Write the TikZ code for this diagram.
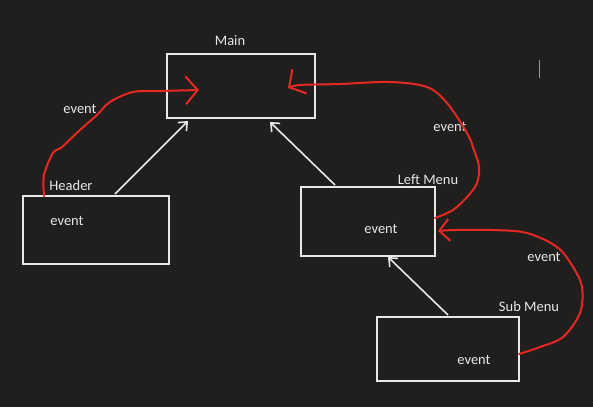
\documentclass[tikz,border=0pt]{standalone}
\usepackage{fontspec}
\setmainfont{Carlito}
\usepackage{tikz}
\usetikzlibrary{arrows.meta}
\usetikzlibrary{calc}
\definecolor{bg}{RGB}{33,31,30}
\definecolor{ln}{RGB}{232,232,230}
\definecolor{ev}{RGB}{228,40,34}
\definecolor{cur}{RGB}{150,150,150}

\begin{document}
\begin{tikzpicture} [
    x=1pt, y=-1pt,
    box/.style={
        draw=ln, line width=2pt,
        inner sep=0pt, outer sep=0pt
    },
    lbl/.style={text=ln, font=\fontsize{14.5}{17}\selectfont, inner sep=0pt},
    f/.style={draw=ln, line width=1.6pt, -{Straight Barb[length=7pt,width=12pt]}},
    r/.style={draw=ev, line width=2pt, line cap=round, line join=round,
        -{Straight Barb[length=12pt,width=28pt]}}
]

\fill [bg] (0,0) rectangle (593,407);
\useasboundingbox (0,0) rectangle (593,407);

\node [box, minimum width=148, minimum height=64] (main)     at (241,86)    {};
\node [box, minimum width=146, minimum height=68] (header)   at (96,230)    {};
\node [box, minimum width=134, minimum height=69] (leftmenu) at (368,221.5) {};
\node [box, minimum width=142, minimum height=64] (submenu)  at (448,349)   {};

\node [lbl] (tmain)     at (230,41)  {Main};
\node [lbl] (theader)   at (71,186)  {Header};
\node [lbl] (tleftmenu) at (428,180) {Left Menu};
\node [lbl] (tsubmenu)  at (529,307) {Sub Menu};

\node [lbl] (eheader)   at (67,221)  {event};
\node [lbl] (eleftmenu) at (381,229) {event};
\node [lbl] (esubmenu)  at (474,360) {event};

\node [lbl] (e1) at (80,109)  {event};
\node [lbl] (e2) at (450,127) {event};
\node [lbl] (e3) at (544,257) {event};

\coordinate (m1) at (199,90);
\coordinate (m2) at (288,88);
\coordinate (l1) at (438,231);

\draw [f] ($(header.north)+(19,-2)$) -- ($(main.south west)+(21,3)$);
\draw [f] ($(leftmenu.north)+(-33,-2)$) -- ($(main.south)+(29,4)$);
\draw [f] ($(submenu.north)+(0,-2)$) -- ($(leftmenu.south)+(20,1)$);

\draw [r] plot [smooth, tension=0.55] coordinates {
    ($(header.north west)+(21,0)$) (44,175) (53,153) (62,147) (80,130)
    (97,115) (110,102) (133,92) (160,91) (m1)};
\draw [r] plot [smooth, tension=0.55] coordinates {
    ($(leftmenu.north east)+(0,31)$) (453,210) (468,196) (477,183) (479,167)
    (474,150) (467,133) (447,103) (427,87) (390,82) (340,84) (300,85) (m2)};
\draw [r, -{Straight Barb[length=10pt,width=22pt]}] plot [smooth, tension=0.55] coordinates {
    ($(submenu.north east)+(0,37)$) (540,347) (563,337) (580,313) (582,287)
    (573,267) (557,247) (527,233) (493,230) (455,230) (l1)};

%\draw (cursor)
\draw [cur, line width=1pt] (539,60) -- (539,78);

\end{tikzpicture}
\end{document}
